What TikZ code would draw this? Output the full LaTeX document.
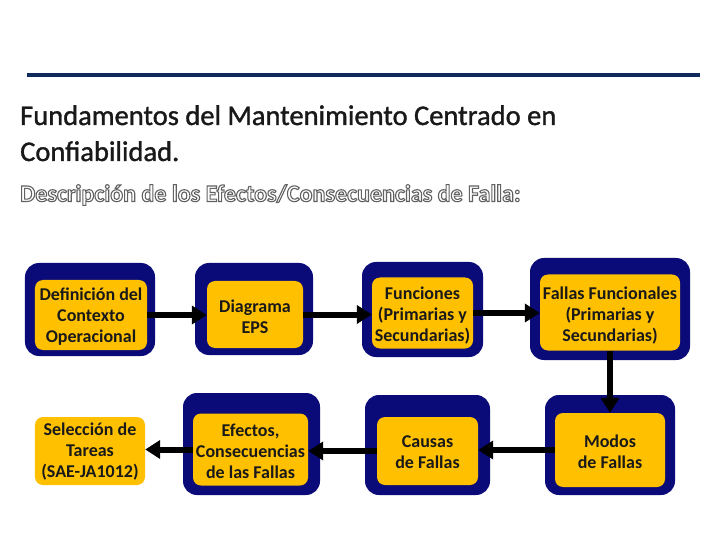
\documentclass[tikz,border=0pt]{standalone}
\usepackage{fontspec}
\setmainfont{Carlito}
\newfontfamily\titlefont{Carlito}[FakeBold=1.2]
\usetikzlibrary{arrows.meta}
\definecolor{navy}{RGB}{10,10,120}
\definecolor{gold}{RGB}{255,192,0}
\definecolor{rulecol}{RGB}{16,42,94}
\definecolor{txt}{RGB}{25,25,25}
\makeatletter
\newcommand{\outlinetext}[1]{{\color{white}\pgfsys@invoke{2 Tr 1.1 w 0.38 0.38 0.38 RG}#1\pgfsys@invoke{0 Tr}}}
\makeatother
\begin{document}
\begin{tikzpicture}[x=1bp,y=-1bp,
  outerbox/.style={fill=navy, rounded corners=14bp, inner sep=0pt},
  innerbox/.style={fill=gold, rounded corners=8bp, inner sep=0pt},
  boxtext/.style={inner sep=0pt, align=center,
    font=\fontsize{18bp}{21bp}\selectfont\bfseries, text=txt},
  link/.style={line width=6bp, -{Triangle[length=15bp,width=18bp]}}]
\useasboundingbox[fill=white] (0,0) rectangle (720,540);
\coordinate (rl) at (27,75);
\coordinate (rr) at (700,75);
\draw[rulecol, line width=4bp] (rl) -- (rr);
\node[anchor=base west, inner sep=0pt, align=left, font=\fontsize{28.5bp}{36bp}\titlefont, text=txt] (title) at (20,161)
  {Fundamentos del Mantenimiento Centrado en\\Confiabilidad.};
\node[anchor=west, inner sep=0pt, font=\fontsize{24bp}{28bp}\selectfont\bfseries] (sub) at (20,195)
  {\outlinetext{Descripción de los Efectos/Consecuencias de Falla:}};
% outer frames
\node[outerbox, minimum width=130bp, minimum height=93bp] (o1) at (90,309.5) {};
\node[outerbox, minimum width=118bp, minimum height=92bp] (o2) at (254,309) {};
\node[outerbox, minimum width=121bp, minimum height=95bp] (o3) at (422.5,309.5) {};
\node[outerbox, minimum width=160bp, minimum height=102bp] (o4) at (610,309) {};
\node[outerbox, minimum width=137bp, minimum height=102bp] (o6) at (251.5,444) {};
\node[outerbox, minimum width=125bp, minimum height=100bp] (o7) at (427.5,445) {};
\node[outerbox, minimum width=130bp, minimum height=100bp] (o8) at (610,445) {};
% inner boxes
\node[innerbox, minimum width=112bp, minimum height=70bp] (i1) at (91,315) {};
\node[innerbox, minimum width=96bp, minimum height=67bp] (i2) at (255,314.5) {};
\node[innerbox, minimum width=101bp, minimum height=71bp] (i3) at (422.5,313) {};
\node[innerbox, minimum width=140bp, minimum height=76bp] (i4) at (610,312.5) {};
\node[innerbox, minimum width=110bp, minimum height=68bp] (i5) at (90,451) {};
\node[innerbox, minimum width=115bp, minimum height=72bp] (i6) at (250.5,449.5) {};
\node[innerbox, minimum width=101bp, minimum height=68bp] (i7) at (427.5,451) {};
\node[innerbox, minimum width=110bp, minimum height=74bp] (i8) at (610,450) {};
% texts
\node[boxtext] (t1) at ([yshift=-2bp]i1.center) {Definición del\\Contexto\\Operacional};
\node[boxtext] (t2) at ([yshift=-2bp]i2.center) {Diagrama\\EPS};
\node[boxtext] (t3) at ([yshift=-3bp]i3.center) {Funciones\\(Primarias y\\Secundarias)};
\node[boxtext] (t4) at ([yshift=-3bp]i4.center) {Fallas Funcionales\\(Primarias y\\Secundarias)};
\node[boxtext] (t5) at ([yshift=-1bp]i5.center) {Selección de\\Tareas\\(SAE-JA1012)};
\node[boxtext] (t6) at ([yshift=-2bp]i6.center) {Efectos,\\Consecuencias\\de las Fallas};
\node[boxtext] (t7) at ([yshift=-1bp]i7.center) {Causas\\de Fallas};
\node[boxtext] (t8) at ([yshift=-2bp]i8.center) {Modos\\de Fallas};
% connectors
\draw[link] (i1.east) -- (i1.east -| i2.west);
\draw[link] (i2.east) -- (i2.east -| i3.west);
\draw[link] (i3.east) -- (i3.east -| i4.west);
\draw[link] (i4.south) -- (i4.south |- i8.north);
\draw[link] (i8.west) -- (i8.west -| i7.east);
\draw[link] (i7.west) -- (i7.west -| i6.east);
\draw[link] (i6.west) -- (i6.west -| i5.east);
\end{tikzpicture}
\end{document}
